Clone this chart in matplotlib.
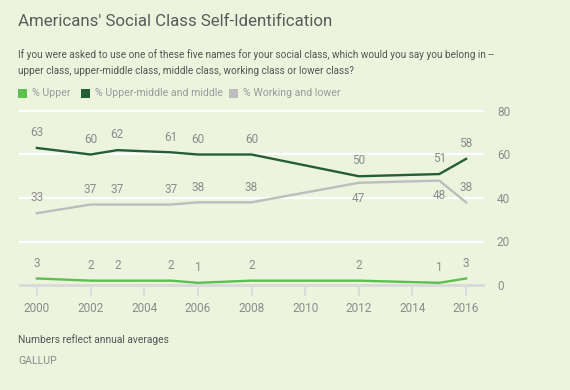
import matplotlib
matplotlib.use("Agg")
import matplotlib.pyplot as plt
from matplotlib.patches import Rectangle

years = [2000, 2002, 2003, 2005, 2006, 2008, 2012, 2015, 2016]
upper = [3, 2, 2, 2, 1, 2, 2, 1, 3]
middle = [63, 60, 62, 61, 60, 60, 50, 51, 58]
working = [33, 37, 37, 37, 38, 38, 47, 48, 38]
xticks = list(range(2000, 2017, 2))
yticks = [0, 20, 40, 60, 80]

BG = "#EDF4DE"
C_UP = "#5DBF4E"
C_MID = "#245E35"
C_WORK = "#BDBDBD"
TXT = "#8C8C8C"

plt.rcParams['font.family'] = ['Roboto', 'DejaVu Sans']

fig = plt.figure(figsize=(5.7, 3.9), dpi=100, facecolor=BG)
ax = fig.add_axes([20/570, 1-285/390, (483-20)/570, (285-111)/390])
ax.set_facecolor(BG)
ax.set_xlim(1999.37, 2016.63)
ax.set_ylim(0, 80)

for y in yticks[1:]:
    ax.axhline(y, color="white", lw=1.5, zorder=1, clip_on=False)
ax.axhline(0, color="#D9D9D9", lw=2, zorder=1, clip_on=False)

ax.plot(years, working, color=C_WORK, lw=1.7, zorder=3)
ax.plot(years, middle, color=C_MID, lw=1.7, zorder=3)
ax.plot(years, upper, color=C_UP, lw=1.7, zorder=3)

def lab(xs, vs, offs, color=TXT):
    for x, v, o in zip(xs, vs, offs):
        ax.annotate(str(v), (x, v), xytext=(0, o), textcoords="offset points",
                    ha="center", va="center", fontsize=8.5, color=color, zorder=4)

lab(years, middle, [11, 11, 11, 11, 11, 11, 11, 11, 11])
lab(years, working, [11, 11, 11, 11, 11, 11, -11, -11, 11])
lab(years, upper, [11, 11, 11, 11, 11, 11, 11, 11, 11])

for s in ax.spines.values():
    s.set_visible(False)
ax.set_xticks(xticks)
ax.set_xticklabels([str(x) for x in xticks])
ax.tick_params(axis="x", length=8, width=1.5, color="#DCDCDC", labelcolor=TXT,
               labelsize=8.5, pad=4)
ax.yaxis.tick_right()
ax.set_yticks(yticks)
ax.tick_params(axis="y", length=0, labelcolor=TXT, labelsize=8.5, pad=10)

fig.text(18/570, 1-22/390, "Americans' Social Class Self-Identification",
         fontsize=12.2, color="#5B5B5B", va="center", ha="left")
fig.text(18/570, 1-55/390,
         "If you were asked to use one of these five names for your social class, which would you say you belong in --",
         fontsize=7.2, color="#555555", va="center", ha="left")
fig.text(18/570, 1-71/390,
         "upper class, upper-middle class, middle class, working class or lower class?",
         fontsize=7.2, color="#555555", va="center", ha="left")

legend = [("% Upper", C_UP, 18), ("% Upper-middle and middle", C_MID, 81), ("% Working and lower", C_WORK, 229)]
for name, col, x in legend:
    fig.patches.append(Rectangle((x/570, 1-98/390), 9/570, 9/390, transform=fig.transFigure,
                                 facecolor=col, edgecolor="none"))
    fig.text((x+14)/570, 1-93.5/390, name, fontsize=7.6, color="#9A9A9A", va="center", ha="left")

fig.text(18/570, 1-340/390, "Numbers reflect annual averages", fontsize=7.4, color="#555555",
         va="center", ha="left")
fig.text(18/570, 1-361/390, "GALLUP", fontsize=7.6, color="#8C8C8C", va="center", ha="left")

fig.savefig("out.png", dpi=100, facecolor=BG)
